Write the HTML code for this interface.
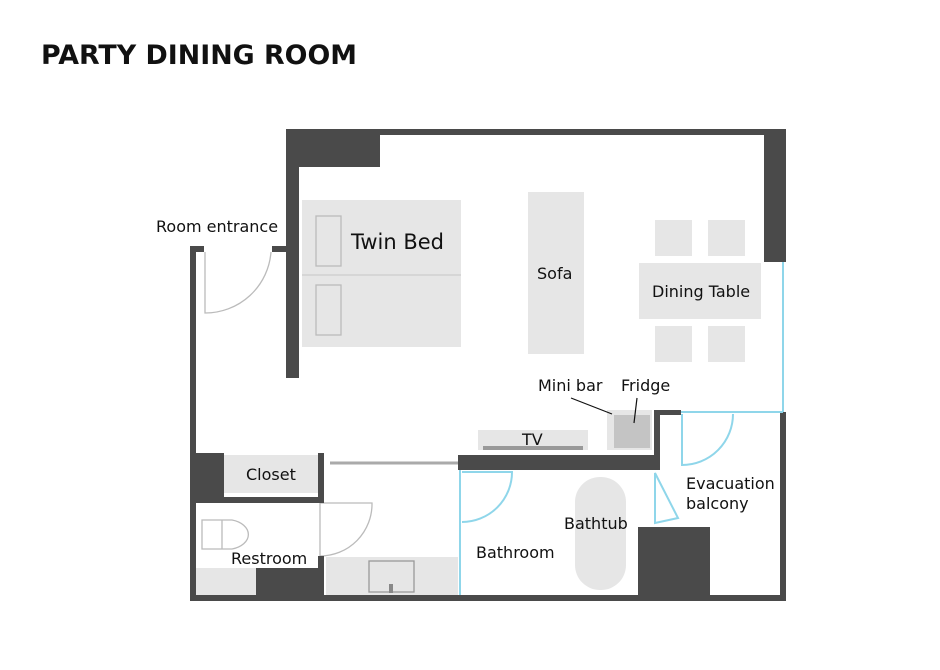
<!DOCTYPE html>
<html><head><meta charset="utf-8"><style>
html,body{margin:0;padding:0;background:#fff;}
svg{display:block;font-family:"DejaVu Sans","Liberation Sans",sans-serif;}
</style></head><body>
<svg width="940" height="670" viewBox="0 0 940 670" xmlns="http://www.w3.org/2000/svg">
<text x="41" y="64" font-size="27" font-weight="bold" fill="#111" textLength="316" lengthAdjust="spacingAndGlyphs">PARTY DINING ROOM</text>
<g fill="#e6e6e6">
 <rect x="302" y="200" width="159" height="147"/>
 <rect x="528" y="192" width="56" height="162"/>
 <rect x="639" y="263" width="122" height="56"/>
 <rect x="655" y="220" width="37" height="36"/><rect x="708" y="220" width="37" height="36"/>
 <rect x="655" y="326" width="37" height="36"/><rect x="708" y="326" width="37" height="36"/>
 <rect x="478" y="430" width="110" height="20"/>
 <rect x="607" y="410" width="45" height="40"/>
 <rect x="224" y="455" width="94" height="38"/>
 <rect x="326" y="557" width="132" height="38"/>
 <rect x="196" y="568" width="60" height="27"/>
 <rect x="575" y="477" width="51" height="113" rx="25"/>
</g>
<rect x="614" y="415" width="36" height="33" fill="#c4c4c4"/>
<rect x="483" y="446" width="100" height="4" fill="#999"/>
<line x1="302" y1="275" x2="461" y2="275" stroke="#d0d0d0" stroke-width="1.5"/>
<g fill="none" stroke="#bbb" stroke-width="1.3">
 <rect x="316" y="216" width="25" height="50"/><rect x="316" y="285" width="25" height="50"/>
 <rect x="369" y="561" width="45" height="31" stroke="#999"/>
 <path d="M205 252 V313 A66 66 0 0 0 271 252"/>
 <path d="M320 503 V556 A52 52 0 0 0 372 503 Z"/>
 <path d="M202 520 H232 A22 15 0 0 1 232 549 H202 Z M222 520 V549"/>
</g>
<line x1="330" y1="463" x2="458" y2="463" stroke="#aaa" stroke-width="3"/>
<rect x="389" y="584" width="4" height="9" fill="#888"/>
<g fill="#4a4a4a">
 <rect x="286" y="129" width="500" height="6"/>
 <rect x="286" y="129" width="94" height="38"/>
 <rect x="286" y="129" width="13" height="249"/>
 <rect x="764" y="129" width="22" height="133"/>
 <rect x="190" y="246" width="6" height="355"/>
 <rect x="190" y="246" width="14" height="6"/><rect x="272" y="246" width="14" height="6"/>
 <rect x="190" y="453" width="34" height="47"/>
 <rect x="318" y="453" width="6" height="50"/>
 <rect x="190" y="497" width="134" height="6"/>
 <rect x="318" y="556" width="6" height="44"/>
 <rect x="256" y="568" width="68" height="32"/>
 <rect x="190" y="595" width="596" height="6"/>
 <rect x="458" y="455" width="202" height="15"/>
 <rect x="654" y="410" width="6" height="60"/>
 <rect x="654" y="410" width="27" height="5"/>
 <rect x="780" y="412" width="6" height="189"/>
 <rect x="638" y="527" width="72" height="73"/>
</g>
<g fill="none" stroke="#8fd6ea" stroke-width="2">
 <line x1="783" y1="262" x2="783" y2="412"/>
 <line x1="681" y1="412" x2="783" y2="412"/>
 <line x1="460" y1="470" x2="460" y2="595"/>
 <path d="M682 414 V465 A51 51 0 0 0 733 414"/>
 <path d="M462 472 H512 A50 50 0 0 1 462 522"/>
 <path d="M655 473 V523 L678 518 Z"/>
</g>
<line x1="571" y1="398" x2="612" y2="414" stroke="#111" stroke-width="1.2"/>
<line x1="637" y1="398" x2="634" y2="423" stroke="#111" stroke-width="1.2"/>
<g fill="#111" font-size="16">
 <text x="156" y="232">Room entrance</text>
 <text x="351" y="249" font-size="21">Twin Bed</text>
 <text x="537" y="279">Sofa</text>
 <text x="652" y="297">Dining Table</text>
 <text x="538" y="391">Mini bar</text>
 <text x="621" y="391">Fridge</text>
 <text x="522" y="445">TV</text>
 <text x="246" y="480">Closet</text>
 <text x="231" y="564">Restroom</text>
 <text x="476" y="558">Bathroom</text>
 <text x="564" y="529">Bathtub</text>
 <text x="686" y="489">Evacuation</text>
 <text x="686" y="509">balcony</text>
</g>
</svg>
</body></html>
